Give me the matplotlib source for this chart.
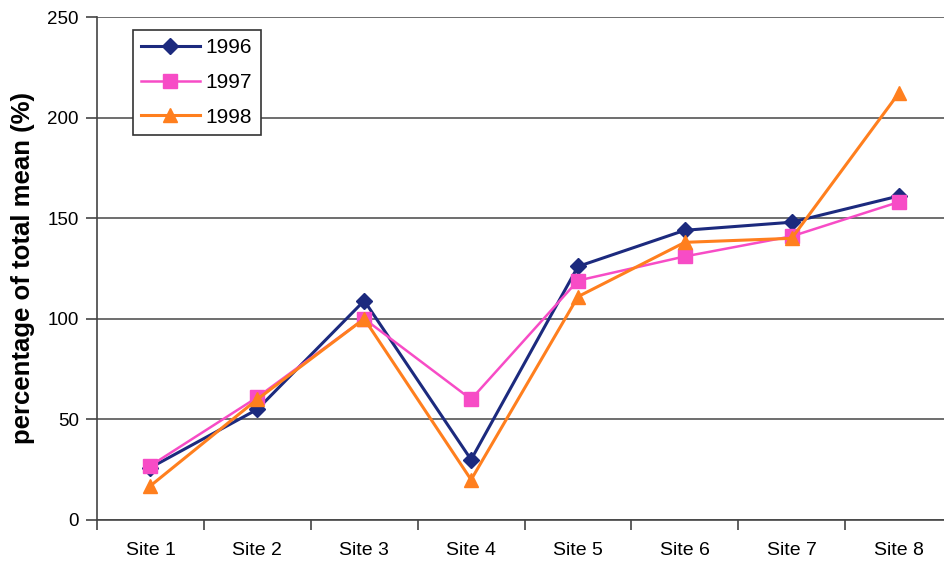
import numpy as np
import matplotlib as mpl
mpl.use('Agg')
import matplotlib.pyplot as plt

plt.rcParams['font.family'] = ['Liberation Sans', 'DejaVu Sans']

# percentage of total mean for each site, by year
sites = ['Site 1', 'Site 2', 'Site 3', 'Site 4', 'Site 5', 'Site 6', 'Site 7', 'Site 8']
pct_1996 = [26, 55, 109, 30, 126, 144, 148, 161]
pct_1997 = [27, 61, 100, 60, 119, 131, 141, 158]
pct_1998 = [17, 60, 100, 20, 111, 138, 140, 212]
years = ['1996', '1997', '1998']

fig = plt.figure(figsize=(9.44, 5.63), dpi=100)
ax = fig.add_axes([0.1028, 0.0764, 0.9057, 0.8934])

x = np.arange(1, len(sites) + 1)
ax.plot(x, pct_1996, color='#1c2a7e', marker='D', ms=8.5, lw=2.2, label=years[0])
ax.plot(x, pct_1997, color='#f74cc6', marker='s', ms=9.5, lw=1.8, label=years[1])
ax.plot(x, pct_1998, color='#ff7f1e', marker='^', ms=10.5, lw=2.2, label=years[2])

ax.set_xlim(0.5, len(sites) + 0.5)
ax.set_ylim(0, 250)
ax.set_yticks(np.arange(0, 251, 50))
ax.yaxis.grid(True, color='#555555', lw=1.2)
ax.set_axisbelow(True)

# category labels centred, tick marks between categories
ax.set_xticks(x)
ax.set_xticklabels(sites)
ax.set_xticks(np.arange(0.5, len(sites) + 1), minor=True)
ax.tick_params(axis='x', which='major', length=0, pad=16, labelsize=14)
ax.tick_params(axis='x', which='minor', length=7, width=1.2, direction='out', color='#444444')
ax.tick_params(axis='y', length=8, width=1.2, color='#444444', labelsize=13.5, pad=5)

for side in ['top', 'right']:
    ax.spines[side].set_visible(False)
for side in ['left', 'bottom']:
    ax.spines[side].set_color('#444444')
    ax.spines[side].set_linewidth(1.2)

ax.set_ylabel('percentage of total mean (%)', fontsize=18.5, fontweight='bold', labelpad=9)

leg = ax.legend(loc='upper left', bbox_to_anchor=(0.042, 0.974), borderaxespad=0,
                fontsize=15, fancybox=False, framealpha=1, edgecolor='#333333',
                handlelength=2.8, handletextpad=0.3, borderpad=0.4, labelspacing=0.75)
leg.get_frame().set_linewidth(1.2)

fig.savefig('out.png', dpi=100)
